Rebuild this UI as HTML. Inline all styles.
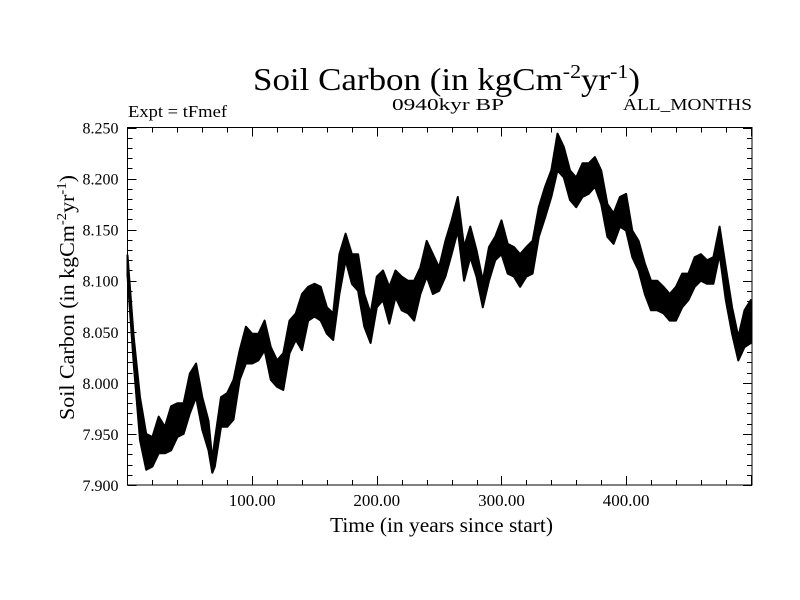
<!DOCTYPE html>
<html><head><meta charset="utf-8">
<style>
body{margin:0;background:#fff;}
svg{display:block;font-family:"Liberation Serif",serif;}
</style></head>
<body>
<svg id="chart" width="800" height="600" viewBox="0 0 800 600">
<rect x="0" y="0" width="800" height="600" fill="#fff"/>
<text x="253" y="90" font-size="32" textLength="387" lengthAdjust="spacingAndGlyphs">Soil Carbon (in kgCm<tspan dy="-12" font-size="20">-2</tspan><tspan dy="12">yr</tspan><tspan dy="-12" font-size="20">-1</tspan><tspan dy="12">)</tspan></text>
<text x="128" y="117" font-size="17" textLength="99" lengthAdjust="spacingAndGlyphs">Expt = tFmef</text>
<text x="392" y="110" font-size="17" textLength="112" lengthAdjust="spacingAndGlyphs">0940kyr BP</text>
<text x="623" y="110" font-size="17" textLength="129" lengthAdjust="spacingAndGlyphs">ALL_MONTHS</text>
<g id="ticks"></g>
<g id="series"></g>
<rect x="127.5" y="127.5" width="624.5" height="357.5" fill="none" stroke="#000" stroke-width="1"/>
<text x="330" y="532" font-size="21" textLength="223" lengthAdjust="spacingAndGlyphs">Time (in years since start)</text>
<text transform="translate(74,420) rotate(-90)" font-size="21" textLength="245" lengthAdjust="spacingAndGlyphs">Soil Carbon (in kgCm<tspan dy="-8" font-size="14">-2</tspan><tspan dy="8">yr</tspan><tspan dy="-8" font-size="14">-1</tspan><tspan dy="8">)</tspan></text>
</svg>
<script>
const years = [0,5,10,15,20,25,30,35,40,45,50,55,60,65,68,70,75,80,85,90,95,100,105,110,115,120,125,130,135,140,145,150,155,160,165,170,175,180,185,190,195,200,205,210,215,220,225,230,235,240,245,250,255,260,265,270,275,280,285,290,295,300,305,310,315,320,325,330,335,340,345,350,355,360,365,370,375,380,385,390,395,400,405,410,415,420,425,430,435,440,445,450,455,460,465,470,475,480,485,490,495,500];
const hiVals = [8.125,8.045,7.986,7.95,7.947,7.967,7.957,7.977,7.98,7.98,8.009,8.019,7.986,7.963,7.925,7.944,7.986,7.99,8.003,8.032,8.055,8.048,8.048,8.061,8.035,8.022,8.029,8.061,8.068,8.087,8.094,8.097,8.094,8.074,8.068,8.126,8.146,8.126,8.126,8.087,8.068,8.104,8.11,8.094,8.11,8.104,8.1,8.1,8.113,8.139,8.126,8.113,8.139,8.159,8.182,8.133,8.153,8.13,8.1,8.133,8.143,8.159,8.136,8.133,8.126,8.133,8.139,8.172,8.192,8.208,8.244,8.231,8.208,8.201,8.215,8.215,8.221,8.208,8.175,8.166,8.182,8.185,8.149,8.139,8.117,8.1,8.1,8.094,8.087,8.094,8.107,8.107,8.123,8.126,8.12,8.123,8.153,8.113,8.074,8.045,8.071,8.081];
const loVals = [8.105,8.019,7.944,7.915,7.918,7.931,7.931,7.934,7.947,7.95,7.97,7.986,7.954,7.934,7.912,7.918,7.957,7.957,7.964,8.003,8.019,8.019,8.022,8.032,8.003,7.996,7.993,8.029,8.042,8.032,8.061,8.065,8.061,8.048,8.042,8.087,8.12,8.097,8.09,8.055,8.039,8.074,8.081,8.058,8.084,8.071,8.068,8.061,8.087,8.104,8.087,8.09,8.104,8.126,8.149,8.1,8.123,8.104,8.074,8.1,8.12,8.126,8.107,8.104,8.094,8.104,8.107,8.143,8.162,8.182,8.208,8.201,8.179,8.172,8.182,8.185,8.192,8.175,8.143,8.136,8.153,8.149,8.123,8.11,8.087,8.071,8.071,8.068,8.061,8.061,8.074,8.081,8.094,8.1,8.097,8.097,8.126,8.081,8.048,8.022,8.035,8.039];
const xTickLabels = ["100.00","200.00","300.00","400.00"];
const xTickValues = [100,200,300,400];
const yTickLabels = ["7.900","7.950","8.000","8.050","8.100","8.150","8.200","8.250"];
const yTickValues = [7.9,7.95,8.0,8.05,8.1,8.15,8.2,8.25];

const X0=127.5,X1=752,Y0=485,Y1=127.5, XMIN=0,XMAX=501, YMIN=7.9,YMAX=8.25;
const sx=v=>X0+(v-XMIN)/(XMAX-XMIN)*(X1-X0);
const sy=v=>Y0-(v-YMIN)/(YMAX-YMIN)*(Y0-Y1);
const NS="http://www.w3.org/2000/svg";
const tg=document.getElementById('ticks');
function ln(x1,y1,x2,y2){const l=document.createElementNS(NS,'line');l.setAttribute('x1',x1);l.setAttribute('y1',y1);l.setAttribute('x2',x2);l.setAttribute('y2',y2);l.setAttribute('stroke','#000');l.setAttribute('stroke-width','1');


tg.appendChild(l);}
for(let v=20;v<XMAX;v+=20){const x=Math.round(sx(v))+0.5;const L=(v%100===0)?9:5;ln(x,Y0,x,Y0-L);ln(x,Y1,x,Y1+L);}
for(let i=0;i<=35;i++){const v=YMIN+i*0.01;const y=Math.round(sy(v))+0.5;const L=(i%5===0)?9:5;ln(X0,y,X0+L,y);ln(X1,y,X1-L,y);}
xTickValues.forEach((v,i)=>{const t=document.createElementNS(NS,'text');t.setAttribute('x',sx(v));t.setAttribute('y',Y0+21);t.setAttribute('font-size','17');t.setAttribute('text-anchor','middle');t.textContent=xTickLabels[i];


tg.appendChild(t);});
yTickValues.forEach((v,i)=>{const t=document.createElementNS(NS,'text');t.setAttribute('x',X0-9);t.setAttribute('y',sy(v)+6);t.setAttribute('font-size','16');t.setAttribute('text-anchor','end');t.textContent=yTickLabels[i];


tg.appendChild(t);});
const sg=document.getElementById('series');
let pts=[];
years.forEach((yr,i)=>pts.push(sx(yr).toFixed(1)+','+sy(hiVals[i]).toFixed(1)));
for(let i=years.length-1;i>=0;i--)pts.push(sx(years[i]).toFixed(1)+','+sy(loVals[i]).toFixed(1));
const pg=document.createElementNS(NS,'polygon');
pg.setAttribute('points',pts.join(' '));
pg.setAttribute('fill','#000');pg.setAttribute('stroke','#000');pg.setAttribute('stroke-width','2');pg.setAttribute('stroke-linejoin','round');


sg.appendChild(pg);
</script>
</body></html>
